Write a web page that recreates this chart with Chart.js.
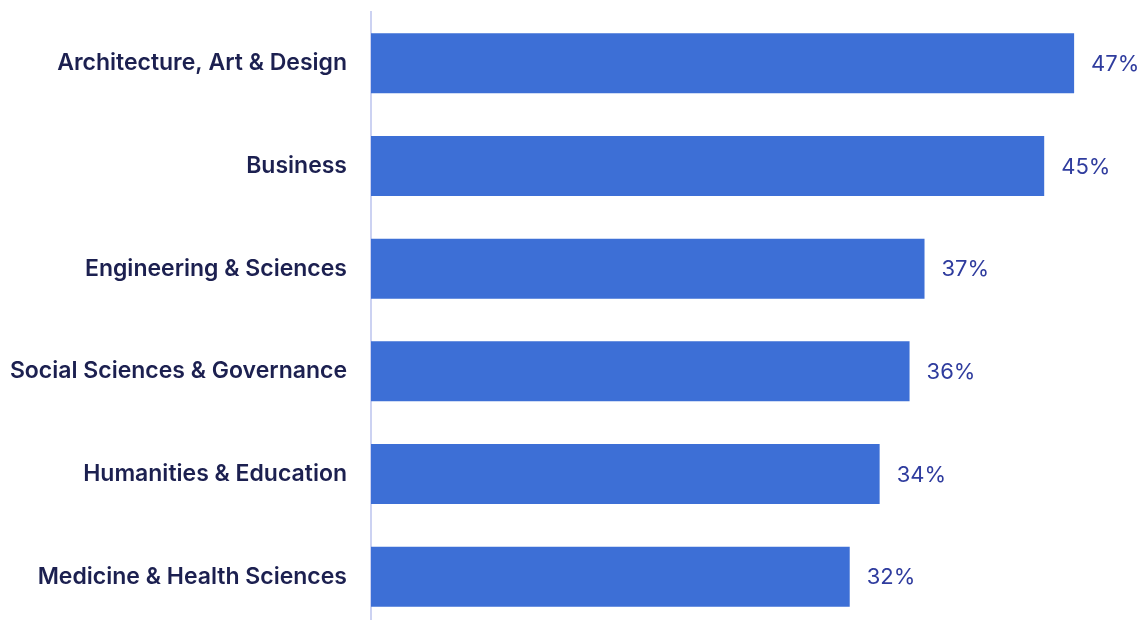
<!DOCTYPE html>
<html>
<head>
<meta charset="utf-8">
<script src="https://cdn.jsdelivr.net/npm/chart.js@4"></script>
<style>
  html, body { margin: 0; padding: 0; background: #fff; overflow: hidden; }
</style>
</head>
<body>
<canvas id="chart" width="1145" height="628"></canvas>
<script>
const categories = [
  'Architecture, Art & Design',
  'Business',
  'Engineering & Sciences',
  'Social Sciences & Governance',
  'Humanities & Education',
  'Medicine & Health Sciences'
];
const shares = [47, 45, 37, 36, 34, 32];

const FONT = 'Inter, "Open Sans", sans-serif';

// value text to the right of each bar
const valueLabels = {
  id: 'valueLabels',
  afterDatasetsDraw(chart) {
    const ctx = chart.ctx;
    const meta = chart.getDatasetMeta(0);
    ctx.save();
    ctx.font = '400 22px ' + FONT;
    ctx.fillStyle = '#2f3c9e';
    ctx.textAlign = 'left';
    ctx.textBaseline = 'middle';
    meta.data.forEach((bar, i) => {
      ctx.fillText(shares[i] + '%', bar.x + 17, bar.y + 1);
    });
    ctx.restore();
  }
};

new Chart(document.getElementById('chart'), {
  type: 'bar',
  data: {
    labels: categories,
    datasets: [{
      data: shares,
      backgroundColor: '#3d6fd6',
      borderWidth: 0,
      categoryPercentage: 1,
      barPercentage: 0.585
    }]
  },
  options: {
    indexAxis: 'y',
    responsive: false,
    animation: false,
    layout: { padding: { top: 12, right: 26, bottom: 0, left: 0 } },
    plugins: { legend: { display: false }, tooltip: { enabled: false } },
    scales: {
      x: { min: 0, max: 50, display: false },
      y: {
        grid: { display: false, drawTicks: false },
        border: { display: true, color: '#ccd2f2', width: 2 },
        ticks: {
          color: '#1c2050',
          padding: 24,
          font: { family: FONT, size: 23, weight: '600' }
        },
        afterFit(scale) {
          scale.width = 371;
          scale.paddingTop = 0;
          scale.paddingBottom = 0;
        }
      }
    }
  },
  plugins: [valueLabels]
});
</script>
</body>
</html>
